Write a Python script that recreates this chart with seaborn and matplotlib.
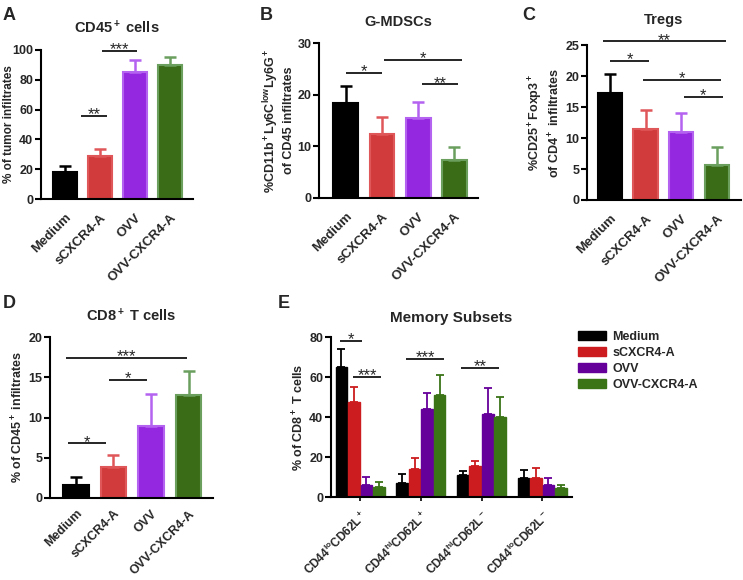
import numpy as np
import pandas as pd
import matplotlib
matplotlib.use('Agg')
import matplotlib.pyplot as plt
import seaborn as sns
from matplotlib.patches import Patch

sns.set_theme(style='ticks')
plt.rcParams['font.family'] = ['Liberation Sans', 'DejaVu Sans']
plt.rcParams['font.weight'] = 'bold'
plt.rcParams['axes.labelweight'] = 'bold'
plt.rcParams['axes.titleweight'] = 'bold'
plt.rcParams['mathtext.fontset'] = 'custom'
for k in ['rm', 'it', 'bf', 'sf']:
    plt.rcParams['mathtext.' + k] = 'Liberation Sans:bold'

# ---------------- data ----------------
groups = ['Medium', 'sCXCR4-A', 'OVV', 'OVV-CXCR4-A']
colors_main = ['#000000', '#d13b3b', '#9428e0', '#3a6b16']
edges_main = ['#000000', '#e0575a', '#b462f0', '#6a9f5e']
colors_mem = ['#000000', '#cc1c1f', '#66009a', '#3b7417']

cd45_mean = [18, 29, 85, 90]
cd45_err = [4, 4.5, 8, 5]
mdsc_mean = [18.3, 12.4, 15.4, 7.4]
mdsc_err = [3.3, 3.2, 3.2, 2.5]
treg_mean = [17.2, 11.4, 11.0, 5.7]
treg_err = [3.1, 3.1, 3.0, 2.9]
cd8_mean = [1.6, 3.9, 9.0, 12.8]
cd8_err = [1.0, 1.4, 3.9, 3.0]

subsets = [r'CD44$^{lo}$CD62L$^+$', r'CD44$^{hi}$CD62L$^+$',
           r'CD44$^{hi}$CD62L$^-$', r'CD44$^{lo}$CD62L$^-$']
mem_medium = [65, 7, 11, 9.5]
mem_medium_err = [9, 4.5, 2, 4]
mem_scxcr4 = [47.5, 14, 15.5, 9.5]
mem_scxcr4_err = [7.5, 5.5, 2.5, 5]
mem_ovv = [6, 44, 41.5, 6]
mem_ovv_err = [4, 8, 13, 3.5]
mem_ovvcx = [5, 51, 40, 4.5]
mem_ovvcx_err = [2.5, 10, 10, 1.7]

# significance annotations: (x1, x2, y, label)
sig_A = [(0.45, 1.2, 56, '**'), (1.05, 2.05, 99.5, '***')]
sig_B = [(0.0, 1.0, 24.2, '*'), (1.05, 3.2, 26.7, '*'), (2.1, 3.1, 22, '**')]
sig_C = [(-0.2, 3.25, 25.6, '**'), (0.0, 1.1, 22.4, '*'),
         (0.92, 3.1, 19.4, '*'), (2.07, 3.17, 16.6, '*')]
sig_D = [(-0.27, 2.96, 17.4, '***'), (0.88, 1.9, 14.7, '*'), (-0.21, 0.8, 6.8, '*')]
sig_E = [(-0.33, 0.03, 78, '*'), (-0.12, 0.35, 60, '***'),
         (0.76, 1.38, 69, '***'), (1.66, 2.29, 64.5, '**')]

# ---------------- figure ----------------
W, H = 743, 580
fig = plt.figure(figsize=(W / 100, H / 100), dpi=100)

TICK_FS = 9
XTICK_FS = 9.5
LABEL_FS = 9
TITLE_FS = 10.5


def add_ax(x0, x1, y0, y1):
    return fig.add_axes([x0 / W, 1 - y1 / H, (x1 - x0) / W, (y1 - y0) / H])


def style_ax(ax, ylim, yticks, xlim, xpad=9):
    ax.set_ylim(*ylim)
    ax.set_yticks(yticks)
    ax.set_xlim(*xlim)
    for s in ['top', 'right']:
        ax.spines[s].set_visible(False)
    for s in ['left', 'bottom']:
        ax.spines[s].set_linewidth(1.5)
        ax.spines[s].set_color('black')
    ax.tick_params(axis='y', labelsize=TICK_FS, width=1.5, length=4, color='black', pad=1.5)
    ax.tick_params(axis='x', labelsize=XTICK_FS, width=1.5, length=0, color='black', pad=xpad)
    for lab in ax.get_yticklabels() + ax.get_xticklabels():
        lab.set_fontweight('bold')
    ax.set_xlabel('')


def add_sig(ax, sigs, fs=12):
    for x1, x2, y, t in sigs:
        ax.plot([x1, x2], [y, y], color='black', lw=1.2, clip_on=False,
                solid_capstyle='butt')
        ax.annotate(t, xy=((x1 + x2) / 2, y), xytext=(0, -2.5),
                    textcoords='offset points', ha='center', va='baseline',
                    fontsize=fs, fontweight='normal', annotation_clip=False)


def simple_panel(ax, means, errs, ylim, yticks, xlim, title, ylabel, sigs, title_pad,
                 label_x=None, label_fs=LABEL_FS, xpad=9, xfs=XTICK_FS):
    df = pd.DataFrame({'group': groups, 'value': means})
    sns.barplot(data=df, x='group', y='value', hue='group', palette=colors_main,
                order=groups, hue_order=groups, legend=False, width=0.68,
                errorbar=None, saturation=1, ax=ax)
    bars = [p for c in ax.containers for p in c]
    for b, ec, fc, e in zip(bars, edges_main, colors_main, errs):
        b.set_edgecolor(ec)
        b.set_linewidth(1.5)
        xc = b.get_x() + b.get_width() / 2
        top = b.get_height()
        ax.errorbar([xc], [top], yerr=[[0], [e]], fmt='none', ecolor=ec,
                    elinewidth=1.8, capsize=4.5, capthick=1.8, zorder=1)
    style_ax(ax, ylim, yticks, xlim, xpad=xpad)
    ax.set_xticks(range(len(groups)))
    ax.set_xticklabels(groups, rotation=45, ha='right', rotation_mode='anchor',
                       fontsize=xfs, fontweight='bold')
    ax.set_ylabel(ylabel, fontsize=label_fs, fontweight='bold', labelpad=2)
    if label_x is not None:
        ax.yaxis.set_label_coords(label_x, 0.5)
    ax.set_title(title, fontsize=TITLE_FS, fontweight='bold', pad=title_pad)
    add_sig(ax, sigs)


axA = add_ax(41, 193, 50, 199)
simple_panel(axA, cd45_mean, cd45_err, (0, 100), [0, 20, 40, 60, 80, 100], (-0.69, 3.66),
             r'CD45$^+$ cells', '% of tumor infiltrates', sig_A, 12,
             label_x=(15 - 41) / 152, label_fs=8.5)

axB = add_ax(319, 478, 43, 198)
simple_panel(axB, mdsc_mean, mdsc_err, (0, 30), [0, 10, 20, 30], (-0.74, 3.65),
             'G-MDSCs', '%CD11b$^+$Ly6C$^{low}$Ly6G$^+$\nof CD45 infiltrates', sig_B, 12)

axC = add_ax(587, 741, 45, 200)
simple_panel(axC, treg_mean, treg_err, (0, 25), [0, 5, 10, 15, 20, 25], (-0.64, 3.67),
             'Tregs', '%CD25$^+$Foxp3$^+$\nof CD4$^+$ infiltrates', sig_C, 15)

axD = add_ax(50, 213, 337, 498)
simple_panel(axD, cd8_mean, cd8_err, (0, 20), [0, 5, 10, 15, 20], (-0.69, 3.65),
             r'CD8$^+$ T cells', r'% of CD45$^+$ infiltrates', sig_D, 11,
             xpad=7, xfs=9)

# ---------------- panel E ----------------
axE = add_ax(331, 572, 337, 497)
mem_df = pd.DataFrame({
    'subset': subsets * 4,
    'group': sum([[g] * 4 for g in groups], []),
    'value': mem_medium + mem_scxcr4 + mem_ovv + mem_ovvcx,
})
mem_errs = [mem_medium_err, mem_scxcr4_err, mem_ovv_err, mem_ovvcx_err]
sns.barplot(data=mem_df, x='subset', y='value', hue='group', order=subsets,
            hue_order=groups, palette=colors_mem, width=0.82, gap=0.06,
            errorbar=None, saturation=1, legend=False, ax=axE)
for cont, col, errs in zip(axE.containers, colors_mem, mem_errs):
    for b, e in zip(cont, errs):
        b.set_edgecolor(col)
        b.set_linewidth(1.0)
        xc = b.get_x() + b.get_width() / 2
        axE.errorbar([xc], [b.get_height()], yerr=[[0], [e]], fmt='none', ecolor=col,
                     elinewidth=1.3, capsize=2.8, capthick=1.3, zorder=1)
style_ax(axE, (0, 80), [0, 20, 40, 60, 80], (-0.48, 3.49))
axE.tick_params(axis='x', length=3, width=1.2, pad=5)
axE.set_xticks(range(len(subsets)))
axE.set_xticklabels(subsets, rotation=45, ha='right', rotation_mode='anchor',
                    fontsize=8.5, fontweight='bold')
axE.set_ylabel(r'% of CD8$^+$ T cells', fontsize=LABEL_FS, fontweight='bold', labelpad=2)
axE.set_title('Memory Subsets', fontsize=TITLE_FS + 0.5, fontweight='bold', pad=11)
add_sig(axE, sig_E)

handles = [Patch(facecolor=c, edgecolor=c) for c in colors_mem]
fig.legend(handles, groups, loc='upper left', bbox_to_anchor=(578 / W, 1 - 331 / H),
           frameon=False, handlelength=2.2, handleheight=0.7,
           handletextpad=0.55, labelspacing=0.32, borderpad=0, borderaxespad=0,
           prop={'weight': 'bold', 'size': 9})

# panel letters
for letter, x, y in [('A', 3, 20), ('B', 260, 20), ('C', 522, 20),
                     ('D', 3, 308), ('E', 278, 308)]:
    fig.text(x / W, 1 - y / H, letter, fontsize=13, fontweight='bold', ha='left',
             va='baseline')

fig.savefig('out.png', dpi=100)
